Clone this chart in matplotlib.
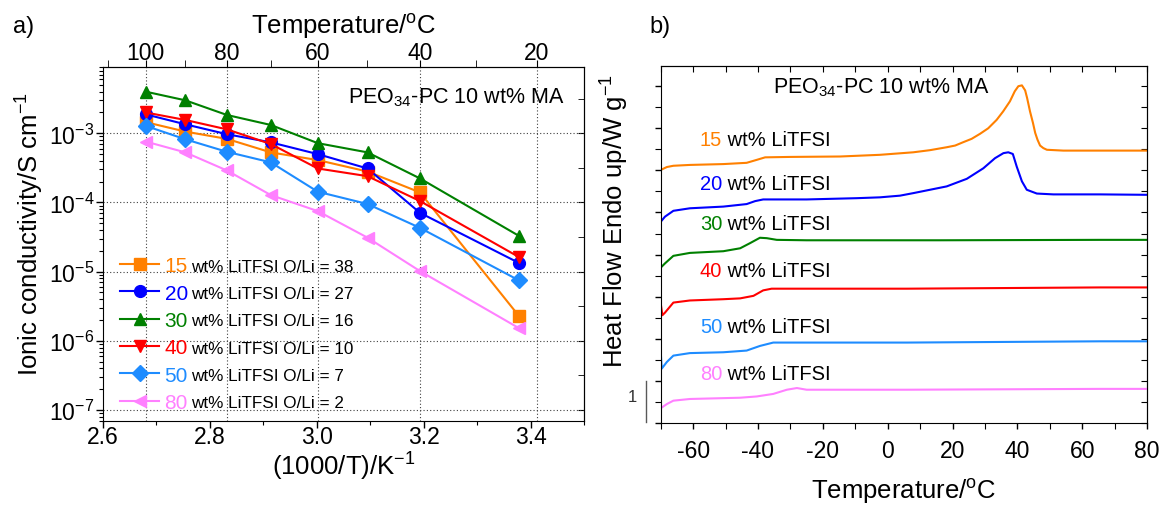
import numpy as np
import matplotlib
matplotlib.use('Agg')
import matplotlib.pyplot as plt
from matplotlib.ticker import FixedLocator, MultipleLocator, NullFormatter, FormatStrFormatter
from matplotlib.transforms import blended_transform_factory

plt.rcParams['font.family'] = ['Liberation Sans', 'DejaVu Sans']
plt.rcParams['mathtext.fontset'] = 'custom'
plt.rcParams['mathtext.rm'] = 'Liberation Sans'
plt.rcParams['mathtext.it'] = 'Liberation Sans:italic'
plt.rcParams['mathtext.default'] = 'regular'
plt.rcParams['axes.unicode_minus'] = False

# ---- panel a) conductivity data ----
inv_t = [2.680, 2.754, 2.832, 2.914, 3.002, 3.095, 3.193, 3.378]   # 1000/T (K^-1)
s15 = [1.45e-3, 1.06e-3, 8.3e-4, 5.3e-4, 4.1e-4, 2.8e-4, 1.4e-4, 2.3e-6]
s20 = [1.88e-3, 1.35e-3, 9.7e-4, 7.4e-4, 5.0e-4, 3.1e-4, 7.1e-5, 1.34e-5]
s30 = [4.0e-3, 3.0e-3, 1.84e-3, 1.32e-3, 7.2e-4, 5.3e-4, 2.23e-4, 3.3e-5]
s40 = [2.0e-3, 1.56e-3, 1.14e-3, 7.0e-4, 3.1e-4, 2.4e-4, 1.05e-4, 1.63e-5]
s50 = [1.28e-3, 8.2e-4, 5.4e-4, 3.8e-4, 1.43e-4, 9.5e-5, 4.3e-5, 7.5e-6]
s80 = [7.6e-4, 5.3e-4, 2.9e-4, 1.28e-4, 7.5e-5, 3.1e-5, 1.02e-5, 1.53e-6]

wt_labels = ['15', '20', '30', '40', '50', '80']
oli_ratio = ['38', '27', '16', '10', '7', '2']
colors = ['#FF8000', '#0000FF', '#008000', '#FF0000', '#1E8CFF', '#FF80FF']
markers = ['s', 'o', '^', 'v', 'D', '<']

top_ticks_c = [100, 80, 60, 40, 20]
top_minor_c = [110, 90, 70, 50, 30]

# ---- panel b) DSC traces (T in degC, heat flow offset in W/g) ----
t15 = [-70, -68.1, -66.1, -61, -50.7, -43.5, -40.4, -37.8, -30.1, -14.7, -2.4, 7.9, 13, 18.2, 20.8,
       23.3, 25.9, 28.5, 31, 33.6, 35.6, 37.7, 39.2, 40.3, 41.4, 42.4, 43, 43.9, 44.8, 45.5, 46.2,
       47, 48, 49.1, 54.2, 65.5, 80]
h15 = [6.01, 6.08, 6.11, 6.13, 6.15, 6.18, 6.25, 6.31, 6.32, 6.33, 6.37, 6.43, 6.48, 6.55, 6.59,
       6.67, 6.75, 6.87, 7.00, 7.20, 7.40, 7.64, 7.88, 8.00, 8.02, 7.90, 7.72, 7.40, 7.13, 6.89, 6.73,
       6.59, 6.53, 6.49, 6.47, 6.47, 6.47]
t20 = [-70, -68.7, -66.1, -61, -50.7, -43.5, -40.9, -38.4, -25, -9.5, -2.4, 3.8, 7.9, 18.2, 24.4,
       29.5, 33.1, 35.7, 37.2, 38.6, 39.8, 41.4, 42.9, 46, 51.1, 65.5, 80]
h20 = [4.78, 4.90, 5.04, 5.10, 5.14, 5.20, 5.27, 5.31, 5.31, 5.34, 5.36, 5.40, 5.46, 5.62, 5.80,
       6.05, 6.29, 6.41, 6.43, 6.39, 6.09, 5.74, 5.54, 5.45, 5.43, 5.43, 5.42]
t30 = [-70, -68.7, -66.1, -61, -50.7, -45.5, -42.5, -39.4, -37.3, -34.2, -25, 16.2, 65.5, 80]
h30 = [3.69, 3.79, 3.97, 4.04, 4.08, 4.15, 4.27, 4.40, 4.39, 4.35, 4.34, 4.34, 4.35, 4.35]
t40 = [-70, -69.5, -68.7, -66.1, -61, -50.7, -45.5, -41.4, -38.4, -35.8, 5.9, 65.5, 80]
h40 = [2.84, 2.56, 2.62, 2.86, 2.91, 2.94, 2.96, 3.02, 3.15, 3.19, 3.19, 3.22, 3.22]
t50 = [-70, -69.7, -68.1, -66.1, -61, -50.7, -43.5, -39.4, -35.3, 5.9, 65.5, 80]
h50 = [1.70, 1.29, 1.45, 1.60, 1.66, 1.68, 1.72, 1.83, 1.91, 1.91, 1.94, 1.94]
t80 = [-70, -68.1, -66.1, -61, -45.5, -40.4, -35.3, -31.1, -28, -25, 5.9, 65.5, 80]
h80 = [0.35, 0.45, 0.53, 0.57, 0.60, 0.63, 0.69, 0.79, 0.83, 0.79, 0.79, 0.81, 0.81]

dsc_t = [t15, t20, t30, t40, t50, t80]
dsc_h = [h15, h20, h30, h40, h50, h80]
dsc_label_y = [6.73, 5.70, 4.74, 3.63, 2.28, 1.17]

fig = plt.figure(figsize=(11.61, 5.06), dpi=100)

# ================= panel a =================
ax1 = fig.add_axes([0.0887, 0.1666, 0.4143, 0.6984])
handles = []
for ys, c, m in zip([s15, s20, s30, s40, s50, s80], colors, markers):
    h, = ax1.plot(inv_t, ys, color=c, marker=m, ms=8.5, lw=1.5, mec=c, mfc=c)
    handles.append(h)
ax1.set_yscale('log')
ax1.set_xlim(2.6, 3.5)
ax1.set_ylim(7e-8, 9e-3)
ax1.xaxis.set_major_locator(MultipleLocator(0.2))
ax1.xaxis.set_minor_locator(MultipleLocator(0.1))
ax1.xaxis.set_major_formatter(FormatStrFormatter('%.1f'))
ax1.yaxis.set_minor_formatter(NullFormatter())
ax1.tick_params(which='both', direction='out', labelsize=16.5, pad=1.2)
ax1.tick_params(axis='x', which='both', pad=-1.5)
ax1.tick_params(which='major', length=4.8, width=1)
ax1.tick_params(which='minor', length=2.8, width=0.8)
ax1.yaxis.grid(True, which='major', ls=(0, (1, 2)), color='0.25', lw=0.8)
for tc in top_ticks_c:
    ax1.axvline(1000.0 / (tc + 273.15), ls=(0, (1, 2)), color='0.25', lw=0.8, zorder=0)
ax1.set_xlabel('(1000/T)/K$^{-1}$', fontsize=18.5, labelpad=1)
ax1.set_ylabel('Ionic conductivity/S cm$^{-1}$', fontsize=18.5)
ax1.yaxis.set_label_coords(-0.118, 0.53)


def c2inv(t):
    t = np.asarray(t, dtype=float)
    with np.errstate(divide='ignore'):
        return 1000.0 / (t + 273.15)


def inv2c(x):
    x = np.asarray(x, dtype=float)
    with np.errstate(divide='ignore'):
        return 1000.0 / x - 273.15


top = ax1.secondary_xaxis('top', functions=(inv2c, c2inv))
top.xaxis.set_major_locator(FixedLocator(top_ticks_c))
top.xaxis.set_minor_locator(FixedLocator(top_minor_c))
top.tick_params(which='both', direction='out', labelsize=16.5, pad=-2.5)
top.tick_params(which='major', length=4.8)
top.tick_params(which='minor', length=4.8)
top.set_xlabel('Temperature/$^{o}$C', fontsize=18.5, labelpad=6)

right1 = ax1.secondary_yaxis('right')
right1.yaxis.set_major_locator(FixedLocator([1e-7, 1e-6, 1e-5, 1e-4, 1e-3]))
right1.yaxis.set_minor_locator(FixedLocator([3.16e-8, 3.16e-7, 3.16e-6, 3.16e-5, 3.16e-4, 3.16e-3]))
right1.yaxis.set_major_formatter(NullFormatter())
right1.yaxis.set_minor_formatter(NullFormatter())
right1.tick_params(which='both', direction='in', length=4)

ax1.text(0.96, 0.918, 'PEO$_{34}$-PC 10 wt% MA', transform=ax1.transAxes,
         ha='right', va='center', fontsize=15.5)

leg = ax1.legend(handles, wt_labels, loc='lower left', bbox_to_anchor=(0.035, 0.025),
                 frameon=False, fontsize=15, handlelength=1.9, handletextpad=0.25,
                 labelspacing=0.4, borderpad=0, borderaxespad=0)
for txt, c, r in zip(leg.get_texts(), colors, oli_ratio):
    txt.set_color(c)
    ax1.annotate('wt% LiTFSI O/Li = ' + r, xy=(1, 0), xycoords=txt,
                 xytext=(2, 3.2), textcoords='offset points', va='baseline',
                 ha='left', fontsize=12.3, zorder=10)

# ================= panel b =================
ax2 = fig.add_axes([0.5691, 0.1621, 0.4189, 0.7055])
for ts, hs, c, lab, ly in zip(dsc_t, dsc_h, colors, wt_labels, dsc_label_y):
    ax2.plot(ts, hs, color=c, lw=1.5)
    ax2.annotate(lab, xy=(-57.9, ly), color=c, fontsize=14.5, va='center', ha='left')
    ax2.annotate(' wt% LiTFSI', xy=(1, 0), xycoords=ax2.texts[-1], color='black',
                 fontsize=14.5, va='bottom', ha='left')
ax2.set_xlim(-70, 80)
ax2.set_ylim(0, 8.48)
ax2.xaxis.set_major_locator(MultipleLocator(20))
ax2.xaxis.set_minor_locator(MultipleLocator(10))
ax2.yaxis.set_major_locator(MultipleLocator(1))
ax2.yaxis.set_minor_locator(MultipleLocator(0.5))
ax2.yaxis.set_major_formatter(NullFormatter())
ax2.tick_params(which='both', direction='out', labelsize=16.5, pad=7)
ax2.tick_params(which='major', length=4.5, width=1)
ax2.tick_params(which='minor', length=4.5, width=0.8)
ax2.set_xlabel('Temperature/$^{o}$C', fontsize=18.5, labelpad=10)
ax2.set_ylabel('Heat Flow Endo up/W g$^{-1}$', fontsize=18.5)
ax2.yaxis.set_label_coords(-0.062, 0.569)

top2 = ax2.secondary_xaxis('top')
top2.xaxis.set_major_locator(MultipleLocator(10))
top2.xaxis.set_major_formatter(NullFormatter())
top2.tick_params(direction='in', length=4)
right2 = ax2.secondary_yaxis('right')
right2.yaxis.set_major_locator(MultipleLocator(0.5))
right2.yaxis.set_major_formatter(NullFormatter())
right2.tick_params(direction='in', length=4)

ax2.text(-35.4, 8.0, 'PEO$_{34}$-PC 10 wt% MA', ha='left', va='center', fontsize=15.5)

# 1 W/g scale bar
trans = blended_transform_factory(ax2.transAxes, ax2.transData)
ax2.plot([-0.031, -0.031], [0.03, 1.0], transform=trans, color='0.35', lw=1, clip_on=False)
ax2.text(-0.059, 0.64, '1', transform=trans, ha='center', va='center', fontsize=12, color='0.2')

fig.text(13 / 1161, 1 - 27 / 506, 'a)', fontsize=17, va='center', ha='left')
fig.text(649 / 1161, 1 - 27 / 506, 'b)', fontsize=17, va='center', ha='left')

fig.savefig('out.png', dpi=100)
